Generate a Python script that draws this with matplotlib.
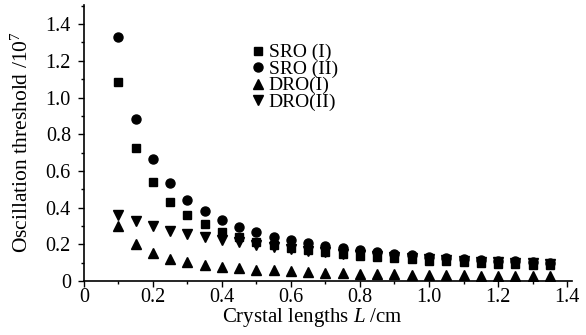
import matplotlib
matplotlib.use("Agg")
import matplotlib.pyplot as plt
from matplotlib.ticker import MultipleLocator

plt.rcParams['font.family'] = ['Liberation Serif', 'DejaVu Serif']
plt.rcParams['mathtext.fontset'] = 'custom'
plt.rcParams['mathtext.rm'] = 'Liberation Serif'
plt.rcParams['mathtext.it'] = 'Liberation Serif:italic'

L = [0.10, 0.15, 0.20, 0.25, 0.30, 0.35, 0.40, 0.45, 0.50, 0.55, 0.60, 0.65, 0.70,
     0.75, 0.80, 0.85, 0.90, 0.95, 1.00, 1.05, 1.10, 1.15, 1.20, 1.25, 1.30, 1.35]

sro_1 = [1.086, 0.723, 0.541, 0.432, 0.360, 0.311, 0.269, 0.240, 0.215, 0.196, 0.180, 0.168, 0.157,
         0.148, 0.139, 0.131, 0.124, 0.118, 0.112, 0.107, 0.102, 0.098, 0.095, 0.092, 0.089, 0.087]
sro_2 = [1.328, 0.883, 0.663, 0.532, 0.441, 0.381, 0.332, 0.296, 0.265, 0.242, 0.223, 0.205, 0.191,
         0.178, 0.167, 0.157, 0.148, 0.140, 0.133, 0.127, 0.121, 0.116, 0.111, 0.107, 0.103, 0.099]
dro_1 = [0.300, 0.200, 0.151, 0.122, 0.102, 0.087, 0.078, 0.069, 0.063, 0.058, 0.053, 0.049, 0.046,
         0.043, 0.041, 0.039, 0.037, 0.035, 0.033, 0.032, 0.031, 0.030, 0.029, 0.028, 0.027, 0.026]
dro_2 = [0.360, 0.327, 0.300, 0.274, 0.254, 0.238, 0.223, 0.211, 0.198, 0.186, 0.176, 0.166, 0.157,
         0.149, 0.142, 0.135, 0.129, 0.124, 0.119, 0.114, 0.110, 0.106, 0.102, 0.099, 0.096, 0.093]

labels = ["SRO (I)", "SRO (II)", "DRO(I)", "DRO(II)"]
xticks = [0, 0.2, 0.4, 0.6, 0.8, 1.0, 1.2, 1.4]
xticklabels = ["0", "0.2", "0.4", "0.6", "0.8", "1.0", "1.2", "1.4"]
yticks = [0, 0.2, 0.4, 0.6, 0.8, 1.0, 1.2, 1.4]
yticklabels = ["0", "0.2", "0.4", "0.6", "0.8", "1.0", "1.2", "1.4"]

fig = plt.figure(figsize=(5.86, 3.35), dpi=100)
ax = fig.add_axes([0.143, 0.161, 0.833, 0.824])

ax.plot(L, sro_1, ls='none', marker='s', ms=5.8, color='black', label=labels[0])
ax.plot(L, sro_2, ls='none', marker='o', ms=6.5, color='black', label=labels[1])
ax.plot(L, dro_1, ls='none', marker='^', ms=7, color='black', label=labels[2])
ax.plot(L, dro_2, ls='none', marker='v', ms=7, color='black', label=labels[3])

ax.set_xlim(0, 1.414)
ax.set_ylim(0, 1.504)
ax.set_xticks(xticks)
ax.set_xticklabels(xticklabels)
ax.set_yticks(yticks)
ax.set_yticklabels(yticklabels)
ax.xaxis.set_minor_locator(MultipleLocator(0.1))
ax.yaxis.set_minor_locator(MultipleLocator(0.1))
ax.tick_params(which='major', direction='out', length=4.3, width=1, labelsize=14.5)
ax.tick_params(axis='x', which='major', pad=0.5)
ax.tick_params(axis='y', which='major', pad=5)
ax.tick_params(which='minor', direction='out', length=2.5, width=1)
for s in ['top', 'right']:
    ax.spines[s].set_visible(False)
for s in ['left', 'bottom']:
    ax.spines[s].set_linewidth(1.2)

ax.set_xlabel("Crystal lengths $\\mathit{L}$ /cm", fontsize=15, labelpad=0)
ax.xaxis.set_label_coords(0.469, -0.092, transform=ax.transAxes)
ax.xaxis.label.set_va('top')
ax.set_ylabel("Oscillation threshold /10$^7$", fontsize=15.5)
ax.yaxis.set_label_coords(-0.127, 0.505, transform=ax.transAxes)
ax.yaxis.label.set_va('center')

leg = ax.legend(loc='upper left', bbox_to_anchor=(0.325, 0.895), frameon=False,
                fontsize=14, handlelength=0.6, handletextpad=0.25, labelspacing=-0.06,
                borderpad=0, markerscale=1.0)

fig.savefig("out.png", dpi=100)
